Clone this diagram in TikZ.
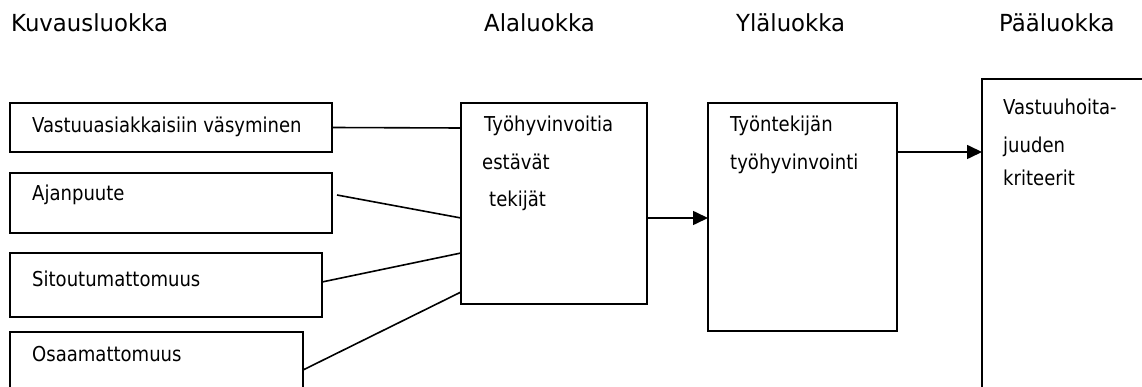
\documentclass[tikz,border=0pt]{standalone}
\usepackage{fontspec}
\usetikzlibrary{arrows.meta}
\newfontfamily\boxfont{DejaVu Sans}[FakeStretch=0.88]
\newfontfamily\headfont{DejaVu Sans}[FakeStretch=0.97]
\begin{document}
\begin{tikzpicture}[x=1pt,y=-1pt,
  frame/.style={draw=black,line width=1.6pt,rectangle,anchor=north west,inner sep=0pt,outer sep=0pt},
  lbl/.style={anchor=base west,inner sep=0pt,font=\boxfont\fontsize{20.5}{24}\selectfont},
  head/.style={anchor=base west,inner sep=0pt,font=\headfont\fontsize{23.5}{28}\selectfont},
  link/.style={line width=1.6pt},
  flow/.style={line width=1.6pt,-{Triangle[length=15pt,width=14pt]}}]
\useasboundingbox (0,0) rectangle (1142,387);
\clip (0,0) rectangle (1142,387);

% column headings
\node[head] (h1) at (11,32) {Kuvausluokka};
\node[head] (h2) at (484,32) {Alaluokka};
\node[head] (h3) at (736,32) {Yläluokka};
\node[head] (h4) at (999,32) {Pääluokka};

% description boxes
\node[frame,minimum width=322pt,minimum height=49pt] (v1) at (10,103) {};
\node[frame,minimum width=322pt,minimum height=60pt] (v2) at (10,173) {};
\node[frame,minimum width=312pt,minimum height=64pt] (v3) at (10,253) {};
\node[frame,minimum width=293pt,minimum height=80pt] (v4) at (10,332) {};
\node[lbl] (t1) at (32,133) {Vastuuasiakkaisiin väsyminen};
\node[lbl] (t2) at (32,201) {Ajanpuute};
\node[lbl] (t3) at (32,286) {Sitoutumattomuus};
\node[lbl] (t4) at (32,361) {Osaamattomuus};

% sub-category
\node[frame,minimum width=186pt,minimum height=201pt] (a) at (461,103) {};
\node[lbl] (ta1) at (484,132) {Työhyvinvoitia};
\node[lbl] (ta2) at (482,170) {estävät};
\node[lbl] (ta3) at (489,207) {tekijät};

% upper category
\node[frame,minimum width=189pt,minimum height=228pt] (b) at (708,103) {};
\node[lbl] (tb1) at (730,132) {Työntekijän};
\node[lbl] (tb2) at (730,170) {työhyvinvointi};

% main category
\node[frame,minimum width=200pt,minimum height=340pt] (c) at (982,79) {};
\node[lbl] (tc1) at (1003,115) {Vastuuhoita-};
\node[lbl] (tc2) at (1003,153) {juuden};
\node[lbl] (tc3) at (1003,186) {kriteerit};

% connector end points
\coordinate (p2) at (337,195);
\coordinate (p3) at (322,282);
\coordinate (p4) at (303,370);
\coordinate (a1) at (461,128);
\coordinate (a2) at (461,218);
\coordinate (a3) at (461,253);
\coordinate (a4) at (461,292);
\coordinate (ao) at (647,218);
\coordinate (bo) at (897,152);

\draw[link] (v1.east) -- (a1);
\draw[link] (p2) -- (a2);
\draw[link] (p3) -- (a3);
\draw[link] (p4) -- (a4);
\draw[flow] (ao) -- (ao -| b.west);
\draw[flow] (bo) -- (bo -| c.west);
\end{tikzpicture}
\end{document}
